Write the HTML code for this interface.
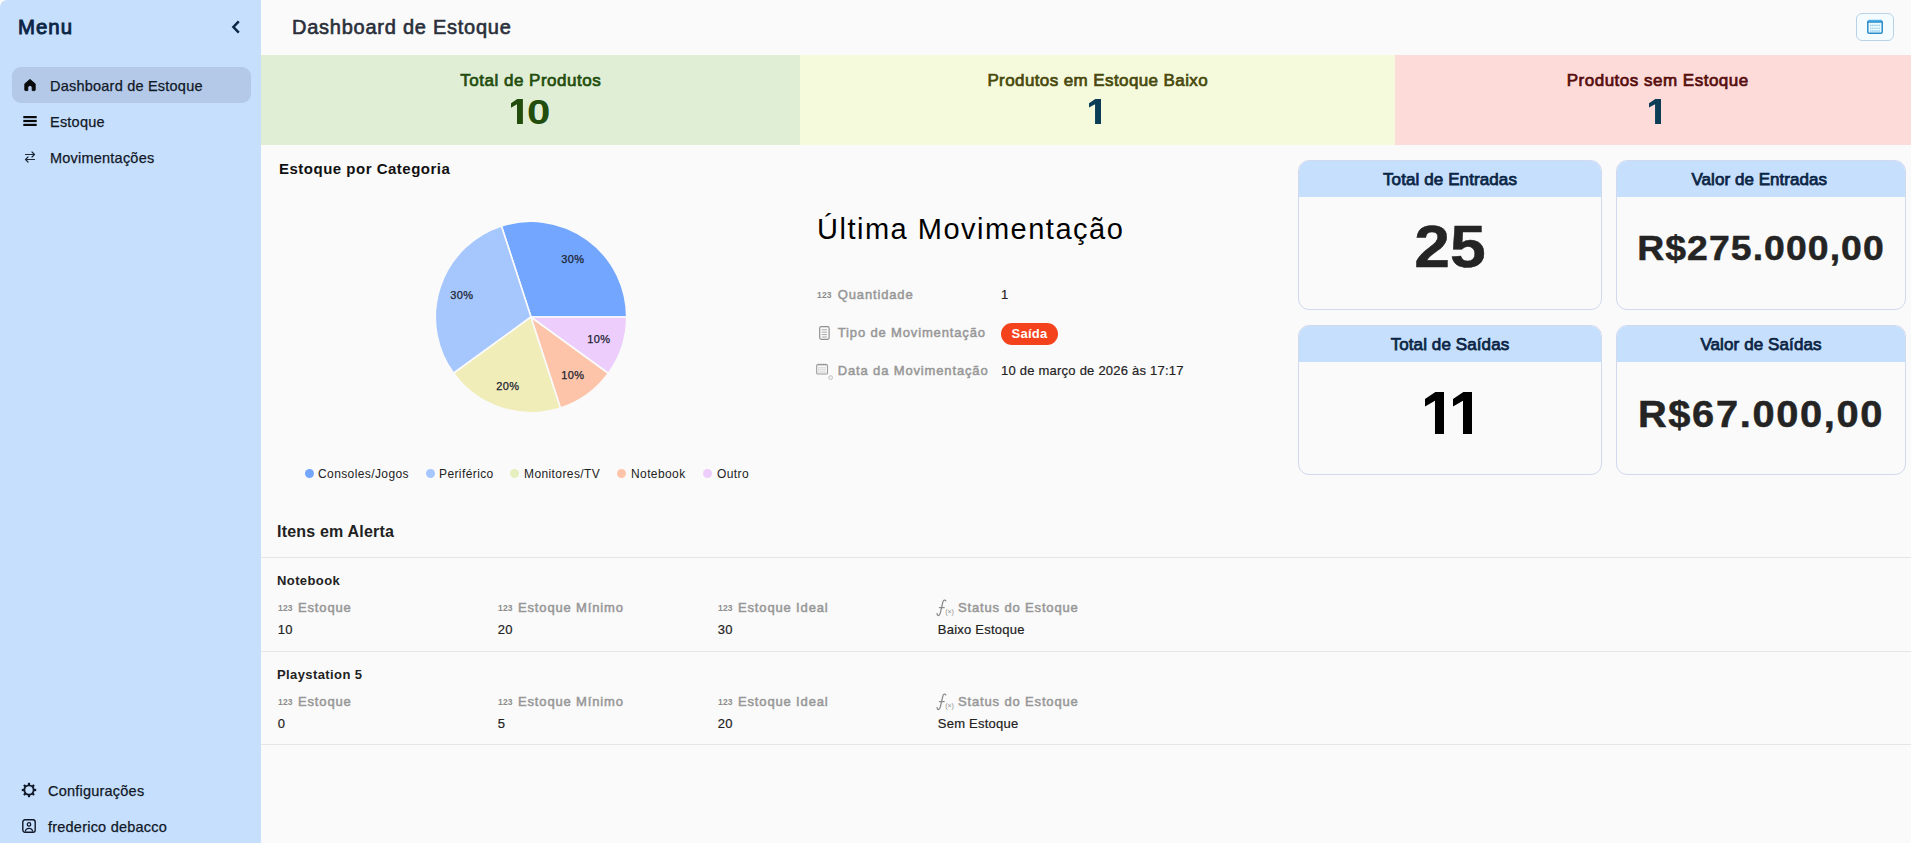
<!DOCTYPE html>
<html lang="pt-BR">
<head>
<meta charset="utf-8">
<title>Dashboard de Estoque</title>
<style>
*{box-sizing:border-box;margin:0;padding:0}
html,body{width:1911px;height:843px;overflow:hidden;background:#fafafa;font-family:"Liberation Sans",sans-serif;color:#222}
.abs{position:absolute;white-space:nowrap}
#side{position:absolute;left:0;top:0;width:261px;height:843px;background:#c6dffd;border-top-left-radius:7px}
#side .t{position:absolute;white-space:nowrap;font-size:14.5px;color:#111827;line-height:20px;letter-spacing:.22px;-webkit-text-stroke:.25px #111827}
.kpi{position:absolute;top:55px;height:90px;text-align:center}
.kpi .h{position:absolute;left:0;right:0;top:14.7px;font-size:17px;font-weight:400;-webkit-text-stroke:.7px currentColor;letter-spacing:.5px;padding-left:.5px;line-height:22px}
.kpi .n{position:absolute;left:0;right:0;top:36px;font-size:35px;font-weight:700;line-height:42px}
.card{position:absolute;border:1px solid #d1d9ee;border-radius:11px;overflow:hidden;background:#fafafa}
.card .h{position:absolute;left:0;right:0;top:0;height:36px;background:#c6dffd;text-align:center;font-size:17px;font-weight:400;-webkit-text-stroke:.75px currentColor;letter-spacing:.1px;color:#0b2545;line-height:38.8px}
.card .n{position:absolute;left:0;right:0;text-align:center;font-weight:700;color:#242424;-webkit-text-stroke:.5px #242424}
.lbl{position:absolute;white-space:nowrap;font-size:13px;color:#979797;letter-spacing:.85px;line-height:16px;font-weight:400;-webkit-text-stroke:.5px #979797;margin-top:.8px}
.val{position:absolute;white-space:nowrap;font-size:13px;color:#222;line-height:16px;margin-top:.8px;letter-spacing:.23px;-webkit-text-stroke:.2px #222}
.i123{position:absolute;white-space:nowrap;font-size:8.5px;color:#8c8c8c;font-weight:700;line-height:10px;margin-top:.8px;letter-spacing:.2px}
.hr{position:absolute;left:261px;right:0;height:1px;background:#e6e6e6}
.lg{position:absolute;white-space:nowrap;font-size:12px;color:#222;line-height:14px;top:467px;letter-spacing:.4px}
.dot{position:absolute;width:9px;height:9px;border-radius:50%;top:469px;margin-left:.4px}
</style>
</head>
<body>
<!-- SIDEBAR -->
<div id="side">
  <div class="abs" style="left:18px;top:14px;font-size:20.4px;font-weight:400;-webkit-text-stroke:.9px #0b2545;letter-spacing:1px;color:#0b2545;line-height:26px;margin-top:-.3px">Menu</div>
  <svg class="abs" style="left:229px;top:19px" width="14" height="16" viewBox="0 0 14 16"><path d="M9.8 2.3 L4.4 8 L9.8 13.7" fill="none" stroke="#0b2545" stroke-width="2.5" stroke-linecap="butt" stroke-linejoin="miter"/></svg>
  <div class="abs" style="left:12px;top:67px;width:239px;height:36px;border-radius:9px;background:#b4c9e8"></div>
  <!-- home -->
  <svg class="abs" style="left:23px;top:78px" width="14" height="14" viewBox="0 0 14 14"><path d="M7 1.4 L12.2 5.8 V12 a.6 .6 0 0 1 -.6 .6 H9.2 V9.6 a2.2 2.2 0 0 0 -4.4 0 V12.6 H2.4 a.6 .6 0 0 1 -.6 -.6 V5.8 Z" fill="#0a0a0a" stroke="#0a0a0a" stroke-width=".9" stroke-linejoin="round"/></svg>
  <div class="t" style="left:50px;top:76px">Dashboard de Estoque</div>
  <!-- list -->
  <svg class="abs" style="left:23px;top:116px" width="14" height="10" viewBox="0 0 14 10"><rect x="0.3" y="0" width="13.4" height="2.2" fill="#0a0a0a"/><rect x="0.3" y="3.9" width="13.4" height="2.2" fill="#0a0a0a"/><rect x="0.3" y="7.8" width="13.4" height="2.2" fill="#0a0a0a"/></svg>
  <div class="t" style="left:50px;top:112px">Estoque</div>
  <!-- arrows -->
  <svg class="abs" style="left:24px;top:151px" width="12" height="12" viewBox="0 0 12 12"><path d="M1.5 3.5 H10.5 M8 1 L10.5 3.5 L8 6 M10.5 8.5 H1.5 M4 6 L1.5 8.5 L4 11" fill="none" stroke="#1f2937" stroke-width="1.2" stroke-linecap="round" stroke-linejoin="round"/></svg>
  <div class="t" style="left:50px;top:148px">Movimentações</div>
  <!-- gear -->
  <svg class="abs" style="left:21px;top:782px" width="16" height="16" viewBox="0 0 16 16"><g fill="#111827"><circle cx="8" cy="8" r="5.6"/><g id="teeth"><rect x="6.9" y="0.8" width="2.2" height="3"/><rect x="6.9" y="12.2" width="2.2" height="3"/><rect x="0.8" y="6.9" width="3" height="2.2"/><rect x="12.2" y="6.9" width="3" height="2.2"/><rect x="6.9" y="0.8" width="2.2" height="3" transform="rotate(45 8 8)"/><rect x="6.9" y="0.8" width="2.2" height="3" transform="rotate(135 8 8)"/><rect x="6.9" y="0.8" width="2.2" height="3" transform="rotate(225 8 8)"/><rect x="6.9" y="0.8" width="2.2" height="3" transform="rotate(315 8 8)"/></g></g><circle cx="8" cy="8" r="3.7" fill="#c6dffd"/></svg>
  <div class="t" style="left:48px;top:781px">Configurações</div>
  <!-- user -->
  <svg class="abs" style="left:22px;top:819px" width="14" height="14" viewBox="0 0 14 14"><rect x="0.8" y="0.8" width="12.4" height="12.4" rx="2.2" fill="none" stroke="#111827" stroke-width="1.4"/><circle cx="7" cy="5.4" r="1.7" fill="none" stroke="#111827" stroke-width="1.3"/><path d="M3.4 12.6 a3.6 3.3 0 0 1 7.2 0" fill="none" stroke="#111827" stroke-width="1.3"/></svg>
  <div class="t" style="left:48px;top:817px">frederico debacco</div>
</div>

<!-- HEADER -->
<div class="abs" style="left:292px;top:14px;font-size:20px;font-weight:400;-webkit-text-stroke:.62px #2a2f3a;letter-spacing:.75px;color:#2a2f3a;line-height:26px">Dashboard de Estoque</div>
<div class="abs" style="left:1856px;top:13px;width:38px;height:28px;border:1px solid #b9d2e8;border-radius:6px;background:#f5fcff"></div>
<svg class="abs" style="left:1867px;top:19px" width="16" height="16" viewBox="0 0 16 16"><rect x="0.8" y="2.2" width="14.4" height="12" rx="1.3" fill="#e9fbff" stroke="#2b8bc9" stroke-width="1.5"/><rect x="0.4" y="1.5" width="15.2" height="2.2" rx="1" fill="#2b8bc9"/><g fill="#4fb0ee"><circle cx="2.8" cy="1.7" r="1.1"/><circle cx="5.4" cy="1.7" r="1.1"/><circle cx="8" cy="1.7" r="1.1"/><circle cx="10.6" cy="1.7" r="1.1"/><circle cx="13.2" cy="1.7" r="1.1"/></g><g stroke="#7fb4d4" stroke-width="1.1" stroke-dasharray="1.1 1"><path d="M3.2 6.4H13 M3.2 9.2H13"/></g><path d="M3.2 12H13" stroke="#3a9ad6" stroke-width="1.1" stroke-dasharray="1.1 1"/></svg>

<!-- KPI -->
<div class="kpi" style="left:261px;width:539px;background:#e0eed6"><div class="h" style="color:#234d0c">Total de Produtos</div></div>
<div class="kpi" style="left:800px;width:595px;background:#f5fadc"><div class="h" style="color:#48490c;letter-spacing:.4px">Produtos em Estoque Baixo</div></div>
<div class="kpi" style="left:1395px;width:525px;background:#fddbd8"><div class="h" style="color:#560d0d">Produtos sem Estoque</div></div>


<svg class="abs" style="left:511.2px;top:99.2px;fill:#234d0c" width="11.9" height="25.2" viewBox="0 0 468 1000" preserveAspectRatio="none"><polygon points="468,0 246,0 0,168 0,343 236,206 236,1000 468,1000"/></svg>
<div class="abs" id="k0" style="left:526.6px;top:91px;font-size:35px;font-weight:700;line-height:42px;color:#234d0c;transform:scaleX(1.2);transform-origin:0 0">0</div>
<svg class="abs" style="left:1089.4px;top:99.4px;fill:#0b3d57" width="12" height="25.1" viewBox="0 0 468 1000" preserveAspectRatio="none"><polygon points="468,0 246,0 0,168 0,343 236,206 236,1000 468,1000"/></svg>
<svg class="abs" style="left:1649.4px;top:99.4px;fill:#0b3d57" width="12" height="25.1" viewBox="0 0 468 1000" preserveAspectRatio="none"><polygon points="468,0 246,0 0,168 0,343 236,206 236,1000 468,1000"/></svg>

<!-- CHART -->
<div class="abs" style="left:279px;top:158.7px;font-size:15px;font-weight:700;color:#111;letter-spacing:.5px;line-height:20px">Estoque por Categoria</div>
<svg class="abs" style="left:420.7px;top:206.9px" width="220" height="220" viewBox="-110 -110 220 220">
  <g stroke="#fafafa" stroke-width="1.6" stroke-linejoin="round">
  <path d="M0 0 L95.70 -0.00 A95.7 95.7 0 0 0 -29.57 -91.02 Z" fill="#73a6fe"/>
  <path d="M0 0 L-29.57 -91.02 A95.7 95.7 0 0 0 -77.42 56.25 Z" fill="#a6c6fe"/>
  <path d="M0 0 L-77.42 56.25 A95.7 95.7 0 0 0 29.57 91.02 Z" fill="#f0edb9"/>
  <path d="M0 0 L29.57 91.02 A95.7 95.7 0 0 0 77.42 56.25 Z" fill="#fdc4a9"/>
  <path d="M0 0 L77.42 56.25 A95.7 95.7 0 0 0 95.70 0.00 Z" fill="#eccdfb"/>
  </g>
  <g font-family="Liberation Sans, sans-serif" font-size="11" fill="#1b2230" stroke="#1b2230" stroke-width=".25" text-anchor="middle" letter-spacing=".3" transform="translate(-1.2 0)">
    <text x="43" y="-54">30%</text>
    <text x="-68" y="-18">30%</text>
    <text x="-22" y="73">20%</text>
    <text x="43" y="62">10%</text>
    <text x="69" y="26">10%</text>
  </g>
</svg>
<div class="dot" style="left:305px;background:#73a6fe"></div><div class="lg" style="left:318px">Consoles/Jogos</div>
<div class="dot" style="left:426px;background:#a6c6fe"></div><div class="lg" style="left:439px">Periférico</div>
<div class="dot" style="left:510px;background:#e6efc0"></div><div class="lg" style="left:524px">Monitores/TV</div>
<div class="dot" style="left:617px;background:#fdc4a9"></div><div class="lg" style="left:631px">Notebook</div>
<div class="dot" style="left:703px;background:#eccdfb"></div><div class="lg" style="left:717px">Outro</div>

<!-- LAST MOVEMENT -->
<div class="abs" style="left:817px;top:211px;font-size:29px;color:#000;letter-spacing:1.5px;line-height:36px">Última Movimentação</div>
<div class="i123" style="left:817px;top:289px">123</div>
<div class="lbl" style="left:837.8px;top:286px">Quantidade</div>
<div class="val" style="left:1001px;top:286px">1</div>
<svg class="abs" style="left:818.6px;top:326px" width="11" height="14" viewBox="0 0 11 14"><rect x="0.7" y="0.7" width="9.4" height="12.6" rx="1.5" fill="none" stroke="#909090" stroke-width="1.2"/><path d="M2.8 3.8H8 M2.8 6.2H8 M2.8 8.6H8 M2.8 11H8" stroke="#a0a0a0" stroke-width="0.9"/></svg>
<div class="lbl" style="left:837.8px;top:324px">Tipo de Movimentação</div>
<div class="abs" style="left:1001px;top:323px;width:57px;height:22px;border-radius:11px;background:#f4431c;color:#fff;font-size:13px;font-weight:700;text-align:center;line-height:22px;letter-spacing:.3px">Saída</div>
<svg class="abs" style="left:816px;top:363px" width="18" height="18" viewBox="0 0 18 18"><rect x="0.7" y="1.6" width="10.8" height="9.4" rx="1.1" fill="none" stroke="#9a9a9a" stroke-width="1.1"/><path d="M2.3 4.8H10 M2.3 6.9H10 M2.3 9H10" stroke="#b2b2b2" stroke-width="0.9" stroke-dasharray="1.2 .8"/><path d="M2.8 0.6V2.4 M5 0.6V2.4 M7.2 0.6V2.4 M9.4 0.6V2.4" stroke="#9a9a9a" stroke-width="0.9"/><rect x="12.9" y="12.9" width="3.4" height="3.4" rx="1" fill="none" stroke="#b0b0b0" stroke-width="0.8"/></svg>
<div class="lbl" style="left:837.8px;top:362px">Data da Movimentação</div>
<div class="val" style="left:1001px;top:362px">10 de março de 2026 às 17:17</div>

<!-- CARDS -->
<div class="card" style="left:1298px;top:160px;width:304px;height:150px"><div class="h">Total de Entradas</div><div class="n" style="top:56px;font-size:60px;line-height:60px;transform:scaleX(1.07)">25</div></div>
<div class="card" style="left:1616px;top:160px;width:290px;height:150px"><div class="h" style="padding-right:3.4px;letter-spacing:.05px">Valor de Entradas</div><div class="n" style="top:65.8px;font-size:34.6px;line-height:42px;letter-spacing:1px;transform:scaleX(1.08)">R$275.000,00</div></div>
<div class="card" style="left:1298px;top:325px;width:304px;height:150px"><div class="h">Total de Saídas</div></div>
<div class="card" style="left:1616px;top:325px;width:290px;height:150px"><div class="h">Valor de Saídas</div><div class="n" style="top:68px;font-size:36.2px;line-height:42px;letter-spacing:1.5px;transform:scaleX(1.1)">R$67.000,00</div></div>

<svg class="abs" style="left:1424.5px;top:391.7px;fill:#000" width="19.8" height="42.3" viewBox="0 0 468 1000" preserveAspectRatio="none"><polygon points="468,0 246,0 0,168 0,343 236,206 236,1000 468,1000"/></svg>
<svg class="abs" style="left:1452.6px;top:391.7px;fill:#000" width="19.8" height="42.3" viewBox="0 0 468 1000" preserveAspectRatio="none"><polygon points="468,0 246,0 0,168 0,343 236,206 236,1000 468,1000"/></svg>

<!-- ALERTS -->
<div class="abs" style="left:277px;top:521.8px;font-size:16px;font-weight:700;color:#222;line-height:20px;letter-spacing:.2px">Itens em Alerta</div>
<div class="hr" style="top:557px"></div>
<div class="hr" style="top:651px"></div>
<div class="hr" style="top:744px"></div>

<div class="abs" style="left:277px;top:573px;font-size:13px;font-weight:700;color:#222;letter-spacing:.4px;line-height:16px">Notebook</div>
<div class="i123" style="left:278px;top:602.2px">123</div><div class="lbl" style="left:298px;top:599px">Estoque</div><div class="val" style="left:277.8px;top:621px">10</div>
<div class="i123" style="left:498px;top:602.2px">123</div><div class="lbl" style="left:518px;top:599px">Estoque Mínimo</div><div class="val" style="left:497.8px;top:621px">20</div>
<div class="i123" style="left:718px;top:602.2px">123</div><div class="lbl" style="left:738px;top:599px">Estoque Ideal</div><div class="val" style="left:717.8px;top:621px">30</div>
<svg class="abs" style="left:936px;top:599px" width="19" height="19" viewBox="0 0 19 19"><path d="M9.8 1.9 C9.1 0.8 7.4 0.7 6.9 2.8 L4.4 13.7 C3.8 16.4 2.4 17 1.7 16.2 C1.2 15.7 1.05 15.1 1.1 14.5 M3.4 8.5 H8.2" fill="none" stroke="#8a8a8a" stroke-width="1.25" stroke-linecap="round"/><text x="9.2" y="14.6" font-family="Liberation Sans, sans-serif" font-size="7" fill="#8f8f8f">(×)</text></svg><div class="lbl" style="left:958px;top:599px">Status do Estoque</div><div class="val" style="left:937.8px;top:621px">Baixo Estoque</div>

<div class="abs" style="left:277px;top:667px;font-size:13px;font-weight:700;color:#222;letter-spacing:.4px;line-height:16px">Playstation 5</div>
<div class="i123" style="left:278px;top:696.2px">123</div><div class="lbl" style="left:298px;top:693px">Estoque</div><div class="val" style="left:277.8px;top:715px">0</div>
<div class="i123" style="left:498px;top:696.2px">123</div><div class="lbl" style="left:518px;top:693px">Estoque Mínimo</div><div class="val" style="left:497.8px;top:715px">5</div>
<div class="i123" style="left:718px;top:696.2px">123</div><div class="lbl" style="left:738px;top:693px">Estoque Ideal</div><div class="val" style="left:717.8px;top:715px">20</div>
<svg class="abs" style="left:936px;top:693px" width="19" height="19" viewBox="0 0 19 19"><path d="M9.8 1.9 C9.1 0.8 7.4 0.7 6.9 2.8 L4.4 13.7 C3.8 16.4 2.4 17 1.7 16.2 C1.2 15.7 1.05 15.1 1.1 14.5 M3.4 8.5 H8.2" fill="none" stroke="#8a8a8a" stroke-width="1.25" stroke-linecap="round"/><text x="9.2" y="14.6" font-family="Liberation Sans, sans-serif" font-size="7" fill="#8f8f8f">(×)</text></svg><div class="lbl" style="left:958px;top:693px">Status do Estoque</div><div class="val" style="left:937.8px;top:715px">Sem Estoque</div>
</body>
</html>
